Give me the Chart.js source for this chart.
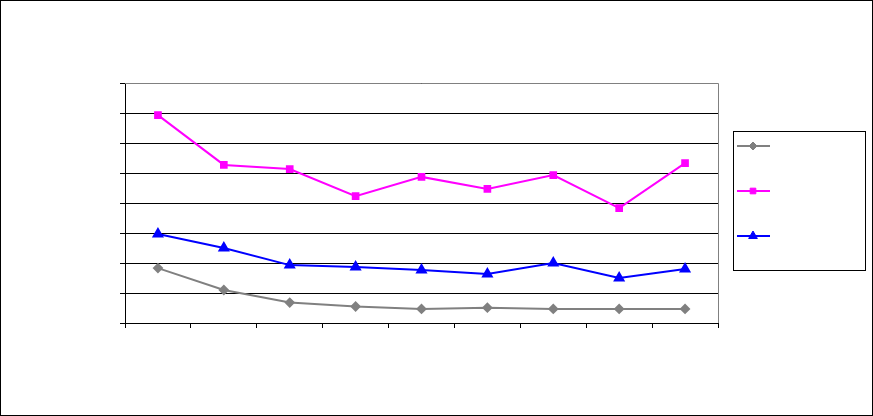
<!DOCTYPE html>
<html>
<head>
<meta charset="utf-8">
<script src="https://cdn.jsdelivr.net/npm/chart.js@4/dist/chart.umd.min.js"></script>
<style>
  html, body { margin: 0; padding: 0; background: #fff; }
  #wrap { width: 873px; height: 416px; position: relative; }
</style>
</head>
<body>
<div id="wrap"><canvas id="lineChart" width="873" height="416"></canvas></div>
<script>
// categories (no labels are printed in the original)
var categories = ['1', '2', '3', '4', '5', '6', '7', '8', '9']
var yTicks = [0, 1, 2, 3, 4, 5, 6, 7, 8]

var graySeries = [1.83, 1.1, 0.68, 0.55, 0.47, 0.51, 0.47, 0.47, 0.47]
var magentaSeries = [6.93, 5.27, 5.13, 4.23, 4.87, 4.47, 4.93, 3.83, 5.33]
var blueSeries = [2.97, 2.5, 1.93, 1.87, 1.77, 1.63, 2.0, 1.5, 1.8]

var seriesNames = ['Series 1', 'Series 2', 'Series 3']

// outer frame + plot border + legend box
var framePlugin = {
    id: 'frame',
    beforeDraw: function (chart) {
        var ctx = chart.ctx
        ctx.save()
        ctx.fillStyle = '#fff'
        ctx.fillRect(0, 0, chart.width, chart.height)
        ctx.strokeStyle = '#000'
        ctx.lineWidth = 1
        ctx.strokeRect(0.5, 0.5, chart.width - 1, chart.height - 1)
        ctx.restore()
    },
    beforeDatasetsDraw: function (chart) {
        var a = chart.chartArea
        var ctx = chart.ctx
        ctx.save()
        ctx.strokeStyle = '#808080'
        ctx.lineWidth = 1
        ctx.beginPath()
        ctx.moveTo(a.left, a.top + 0.5)
        ctx.lineTo(a.right + 0.5, a.top + 0.5)
        ctx.lineTo(a.right + 0.5, a.bottom)
        ctx.stroke()
        ctx.restore()
    },
    afterDraw: function (chart) {
        var ctx = chart.ctx
        ctx.save()
        ctx.strokeStyle = '#000'
        ctx.lineWidth = 1
        ctx.strokeRect(733.5, 131.5, 132, 139)
        var rows = [146, 191, 236]
        chart.data.datasets.forEach(function (ds, i) {
            var y = rows[i]
            ctx.strokeStyle = ds.borderColor
            ctx.lineWidth = 2
            ctx.beginPath()
            ctx.moveTo(737, y)
            ctx.lineTo(770, y)
            ctx.stroke()
            ctx.fillStyle = ds.backgroundColor
            ctx.strokeStyle = ds.borderColor
            ctx.lineWidth = 1
            Chart.helpers.drawPoint(ctx, {
                pointStyle: ds.pointStyle,
                radius: ds.pointRadius,
                rotation: 0,
                borderWidth: 1
            }, 753, y)
        })
        ctx.restore()
    }
}

var ctx = document.getElementById('lineChart').getContext('2d')
new Chart(ctx, {
    type: 'line',
    data: {
        labels: categories,
        datasets: [{
            label: seriesNames[0],
            data: graySeries,
            borderColor: '#808080',
            backgroundColor: '#808080',
            borderWidth: 2,
            pointStyle: 'rectRot',
            pointRadius: 4,
            tension: 0
        }, {
            label: seriesNames[1],
            data: magentaSeries,
            borderColor: '#ff00ff',
            backgroundColor: '#ff00ff',
            borderWidth: 2,
            pointStyle: 'rect',
            pointRadius: 4,
            tension: 0
        }, {
            label: seriesNames[2],
            data: blueSeries,
            borderColor: '#0000ff',
            backgroundColor: '#0000ff',
            borderWidth: 2,
            pointStyle: 'triangle',
            pointRadius: 5,
            tension: 0
        }]
    },
    options: {
        responsive: false,
        animation: false,
        layout: {
            padding: { left: 120, right: 155, top: 83, bottom: 88 }
        },
        plugins: {
            legend: { display: false },
            tooltip: { enabled: false }
        },
        scales: {
            x: {
                offset: true,
                grid: {
                    offset: true,
                    drawOnChartArea: false,
                    drawTicks: true,
                    tickLength: 5,
                    color: '#000'
                },
                border: { color: '#000', width: 1 },
                ticks: { display: false }
            },
            y: {
                min: yTicks[0],
                max: yTicks[yTicks.length - 1],
                afterBuildTicks: function (scale) {
                    scale.ticks = yTicks.map(function (v) { return { value: v } })
                },
                grid: {
                    color: '#000',
                    drawTicks: true,
                    tickLength: 5
                },
                border: { color: '#000', width: 1 },
                ticks: { display: false }
            }
        }
    },
    plugins: [framePlugin]
})
</script>
</body>
</html>
